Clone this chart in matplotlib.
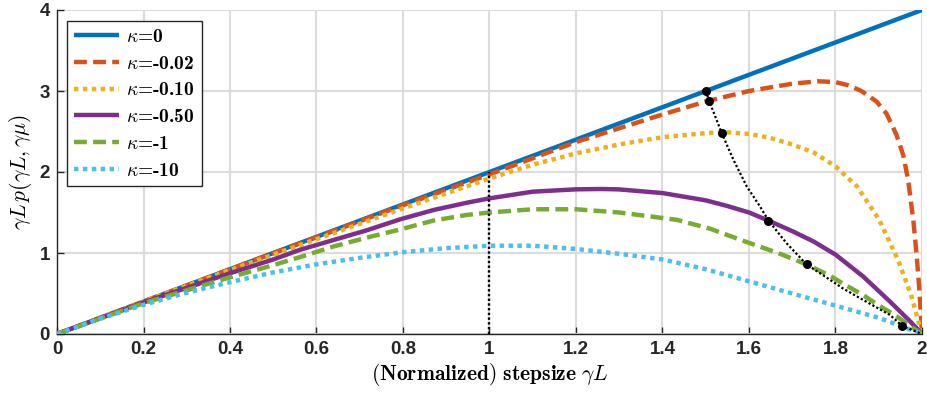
import matplotlib
matplotlib.use("Agg")
import matplotlib.pyplot as plt

plt.rcParams['mathtext.fontset'] = 'cm'

# ---- data ----
kappa_labels = ['0', '-0.02', '-0.10', '-0.50', '-1', '-10']

x_k0 = [0.0, 2.0]
y_k0 = [0.0, 4.0]

x_k002 = [0, 0.2, 0.4, 0.6, 0.8, 1.0, 1.1, 1.2, 1.3, 1.4, 1.5, 1.6, 1.7, 1.76, 1.8,
          1.83, 1.86, 1.895, 1.918, 1.941, 1.957, 1.968, 1.98, 1.988, 1.994, 1.999, 2.0]
y_k002 = [0, 0.40, 0.80, 1.195, 1.59, 1.97, 2.17, 2.37, 2.54, 2.71, 2.87, 3.00, 3.09, 3.12, 3.11,
          3.07, 3.00, 2.87, 2.72, 2.46, 2.20, 1.90, 1.40, 0.95, 0.54, 0.09, 0.0]

x_k010 = [0, 0.2, 0.4, 0.6, 0.8, 1.0, 1.1, 1.2, 1.3, 1.4, 1.5, 1.55, 1.6, 1.65, 1.7, 1.75,
          1.8, 1.85, 1.9, 1.945, 1.976, 1.995, 2.0]
y_k010 = [0, 0.40, 0.79, 1.17, 1.55, 1.92, 2.09, 2.23, 2.34, 2.43, 2.48, 2.49, 2.47, 2.42, 2.34, 2.24,
          2.07, 1.82, 1.42, 0.91, 0.46, 0.09, 0.0]

x_k050 = [0, 0.2, 0.4, 0.5, 0.562, 0.639, 0.716, 0.793, 0.870, 0.947, 1.0, 1.1, 1.2, 1.26, 1.3,
          1.4, 1.5, 1.55, 1.6, 1.645, 1.7, 1.75, 1.8, 1.864, 1.926, 1.97, 2.0]
y_k050 = [0, 0.39, 0.75, 0.92, 1.04, 1.16, 1.28, 1.415, 1.53, 1.62, 1.675, 1.757, 1.786, 1.79, 1.785,
          1.74, 1.65, 1.58, 1.50, 1.40, 1.27, 1.14, 0.98, 0.71, 0.40, 0.17, 0.0]

x_k1 = [0, 0.2, 0.4, 0.5, 0.562, 0.639, 0.716, 0.793, 0.870, 0.947, 1.0, 1.1, 1.2, 1.3, 1.433,
        1.51, 1.587, 1.667, 1.733, 1.787, 1.818, 1.864, 1.895, 1.941, 1.972, 2.0]
y_k1 = [0, 0.38, 0.70, 0.85, 0.95, 1.08, 1.19, 1.29, 1.40, 1.47, 1.50, 1.54, 1.54, 1.50, 1.41,
        1.30, 1.15, 1.00, 0.86, 0.72, 0.62, 0.48, 0.37, 0.22, 0.10, 0.0]

x_k10 = [0, 0.1, 0.2, 0.3, 0.4, 0.5, 0.6, 0.7, 0.8, 0.9, 1.0, 1.1, 1.2, 1.3, 1.4, 1.5,
         1.6, 1.7, 1.8, 1.9, 1.95, 2.0]
y_k10 = [0, 0.19, 0.36, 0.51, 0.64, 0.76, 0.86, 0.94, 1.01, 1.06, 1.09, 1.09, 1.05, 0.99, 0.92, 0.80,
         0.65, 0.50, 0.35, 0.20, 0.10, 0.0]

# dotted locus through the marked points
x_locus = [1.5, 1.508, 1.537, 1.564, 1.595, 1.626, 1.645, 1.687, 1.733, 1.787, 1.818, 1.864,
           1.926, 1.954, 2.0]
y_locus = [3.0, 2.876, 2.48, 2.15, 1.82, 1.57, 1.40, 1.12, 0.86, 0.67, 0.56, 0.42,
           0.235, 0.10, 0.0]
x_marks = [1.5, 1.508, 1.537, 1.645, 1.733, 1.954]
y_marks = [3.0, 2.876, 2.48, 1.40, 0.86, 0.10]

# vertical reference line at gamma L = 1
x_vline = [1.0, 1.0]
y_vline = [0.0, 2.0]

xticks = [0, 0.2, 0.4, 0.6, 0.8, 1.0, 1.2, 1.4, 1.6, 1.8, 2.0]
xticklabels = ['0', '0.2', '0.4', '0.6', '0.8', '1', '1.2', '1.4', '1.6', '1.8', '2']
yticks = [0, 1, 2, 3, 4]
yticklabels = ['0', '1', '2', '3', '4']

# ---- drawing ----
colors = ['#0072BD', '#D95319', '#EDB120', '#7E2F8E', '#77AC30', '#4DBEEE']
dash = (0, (2.9, 1.4))
dot = (0, (1.0, 1.0))
styles = ['-', dash, dot, '-', dash, dot]
series = [(x_k0, y_k0), (x_k002, y_k002), (x_k010, y_k010),
          (x_k050, y_k050), (x_k1, y_k1), (x_k10, y_k10)]

fig = plt.figure(figsize=(9.28, 4.03), dpi=100)
ax = fig.add_axes([57 / 928, 1 - 334 / 403, 865 / 928, 324 / 403])

for (xs, ys), c, ls, lab in zip(series, colors, styles, kappa_labels):
    ax.plot(xs, ys, color=c, linestyle=ls, lw=3.2, dash_capstyle='butt',
            solid_capstyle='butt', label=r'$\kappa$' + '=' + lab, zorder=3)

ax.plot(x_vline, y_vline, color='black', linestyle=(0, (1, 1)), lw=1.7, zorder=4)
ax.plot(x_locus, y_locus, color='black', linestyle=(0, (1, 1)), lw=1.6, zorder=4)
ax.plot(x_marks, y_marks, 'o', color='black', markersize=5.5, zorder=5)

ax.set_xlim(0, 2)
ax.set_ylim(0, 4)
ax.set_xticks(xticks)
ax.set_xticklabels(xticklabels)
ax.set_yticks(yticks)
ax.set_yticklabels(yticklabels)

tickfont = dict(family='Liberation Sans', weight='bold', size=13.5)
for lab in ax.get_xticklabels() + ax.get_yticklabels():
    lab.set_fontproperties(matplotlib.font_manager.FontProperties(**tickfont))
ax.tick_params(direction='in', length=5, width=1, colors='#262626', pad=5)

for s in ['top', 'right']:
    ax.spines[s].set_visible(False)
for s in ['left', 'bottom']:
    ax.spines[s].set_color('#262626')
    ax.spines[s].set_linewidth(1)

ax.grid(True, color='#dcdcdc', lw=1.5, zorder=0)
ax.set_axisbelow(True)

ax.set_xlabel(r'$\mathbf{(Normalized)\ stepsize}\ \gamma L$', fontsize=15.5, labelpad=2)
ax.set_ylabel(r'$\gamma L\, p(\gamma L, \gamma\mu)$', fontsize=15.5, labelpad=4)

leg = ax.legend(loc='upper left', bbox_to_anchor=(0.0116, 0.966), borderaxespad=0,
                prop=dict(family='cmb10', size=14), handlelength=2.3, labelspacing=0.45,
                handletextpad=0.4, borderpad=0.35, fancybox=False, framealpha=1)
leg.get_frame().set_edgecolor('#262626')
leg.get_frame().set_linewidth(1)

fig.savefig('out.png', dpi=100)
